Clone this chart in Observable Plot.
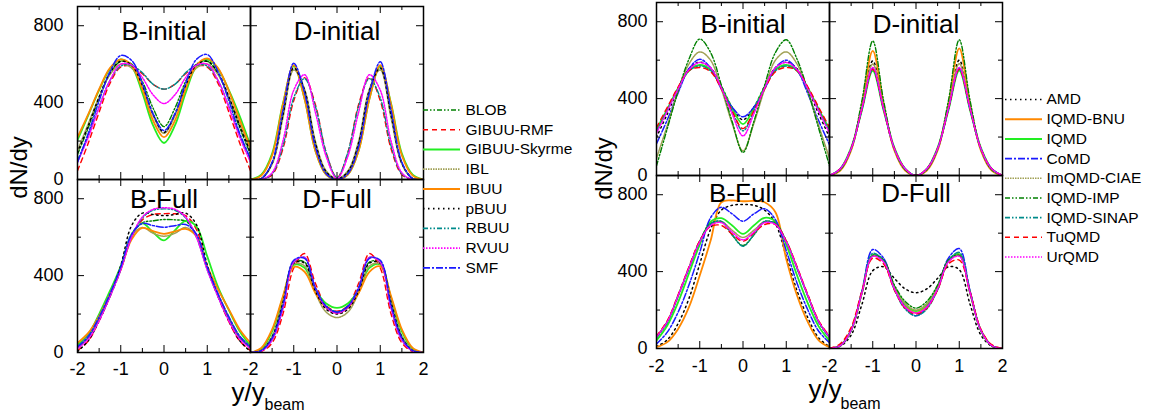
<!DOCTYPE html>
<html><head><meta charset="utf-8">
<script src="https://cdn.jsdelivr.net/npm/d3@7"></script>
<script src="https://cdn.jsdelivr.net/npm/@observablehq/plot@0.6"></script>
<style>
body{margin:0;background:#fff;}
#wrap{position:relative;width:1152px;height:414px;overflow:hidden;background:#fff;}
#wrap svg{position:absolute;top:0;}
</style></head><body><div id="wrap"></div>
<script>
// rapidity grid (y/y_beam)
const xs = [-2,-1.75,-1.5,-1.25,-1,-0.75,-0.5,-0.25,0,0.25,0.5,0.75,1,1.25,1.5,1.75,2];

// ---------- left group: BUU-type models ----------
const leftModels = ["BLOB","GIBUU-RMF","GIBUU-Skyrme","IBL","IBUU","pBUU","RBUU","RVUU","SMF"];
const leftColors = ["#008000","#ff0000","#22ee22","#a0a055","#ff8800","#000000","#008b8b","#ff00ff","#1a1aff"];
const leftDashes = ["5,2,1.5,2,1.5,2","5,4",null,"1.5,1",null,"1.5,3.5","5,2,1.5,2,1.5,2","1.5,1.5","7,2,2,2"];
const leftWidths = [1.4,1.4,1.8,1.5,1.8,1.5,1.4,1.5,1.5];

const L_Binit = {
  "BLOB":        [130,270,420,550,615,600,510,370,275,370,510,600,615,550,420,270,130],
  "GIBUU-RMF":   [45,190,350,500,585,590,550,495,470,495,550,590,585,500,350,190,45],
  "GIBUU-Skyrme":[205,335,465,575,625,590,450,280,190,280,450,590,625,575,465,330,175],
  "IBL":         [150,290,430,545,600,580,480,330,240,330,480,580,600,545,430,290,150],
  "IBUU":        [220,340,470,580,625,595,470,305,220,305,470,595,630,580,460,310,165],
  "pBUU":        [140,280,430,555,615,595,490,340,245,340,490,595,615,555,430,280,140],
  "RBUU":        [100,230,380,515,590,595,555,495,470,495,555,595,590,515,380,230,100],
  "RVUU":        [90,220,375,515,600,595,530,440,395,440,530,595,600,515,375,220,90],
  "SMF":         [90,240,410,560,645,620,500,340,255,340,500,625,650,560,410,240,110]
};
const L_Dinit = {
  "BLOB":        [0,5,85,340,590,460,185,40,3,40,185,460,590,340,85,5,0],
  "GIBUU-RMF":   [0,0,25,160,410,530,390,140,10,140,390,530,410,160,25,0,0],
  "GIBUU-Skyrme":[0,25,135,395,590,420,150,25,0,25,150,420,590,395,135,25,0],
  "IBL":         [0,5,80,320,570,470,200,45,5,45,200,470,570,320,80,5,0],
  "IBUU":        [0,20,125,390,595,420,150,25,0,25,150,420,595,390,125,20,0],
  "pBUU":        [0,5,85,335,580,465,190,40,3,40,190,465,580,335,85,5,0],
  "RBUU":        [0,0,30,175,425,525,380,140,10,140,380,525,425,175,30,0,0],
  "RVUU":        [0,0,35,200,465,545,350,120,5,120,350,545,465,200,35,0,0],
  "SMF":         [0,5,90,360,605,450,170,30,0,30,170,450,612,360,90,5,0]
};
const L_Bfull = {
  "BLOB":        [25,80,180,300,440,610,675,685,692,690,683,610,440,300,180,80,25],
  "GIBUU-RMF":   [10,60,165,290,430,600,690,718,722,722,712,640,440,290,160,60,10],
  "GIBUU-Skyrme":[40,95,200,320,450,615,672,625,583,635,685,655,500,340,220,110,35],
  "IBL":         [30,85,185,305,440,605,650,620,605,620,650,605,440,305,185,85,30],
  "IBUU":        [50,102,189,302,432,588,648,631,617,630,643,605,449,328,224,120,50],
  "pBUU":        [5,62,165,295,452,660,725,718,712,718,725,665,455,295,165,62,5],
  "RBUU":        [25,75,170,290,430,600,700,740,747,740,700,600,430,290,170,75,25],
  "RVUU":        [20,70,165,290,430,600,705,745,753,745,705,600,430,290,165,70,20],
  "SMF":         [30,85,185,305,445,615,671,660,652,660,666,615,445,305,185,85,30]
};
const L_Dfull = {
  "BLOB":        [0,12,85,265,470,470,330,240,212,240,330,470,470,265,85,12,0],
  "GIBUU-RMF":   [0,5,50,200,440,515,360,245,215,245,360,515,440,200,50,5,0],
  "GIBUU-Skyrme":[0,18,110,285,455,440,325,255,232,255,325,440,458,285,110,18,0],
  "IBL":         [0,12,85,265,460,450,310,210,182,210,310,450,460,265,85,12,0],
  "IBUU":        [0,24,120,293,445,420,310,232,206,232,310,420,448,293,120,24,0],
  "pBUU":        [0,10,80,260,465,465,320,225,200,225,320,465,465,260,80,10,0],
  "RBUU":        [0,8,65,230,470,495,340,240,212,240,340,495,470,230,65,8,0],
  "RVUU":        [0,8,65,230,470,495,335,235,205,235,335,495,470,230,65,8,0],
  "SMF":         [0,10,75,245,480,490,335,240,210,240,335,490,480,245,75,10,0]
};

// ---------- right group: QMD-type models ----------
const rightModels = ["AMD","IQMD-BNU","IQMD","CoMD","ImQMD-CIAE","IQMD-IMP","IQMD-SINAP","TuQMD","UrQMD"];
const rightColors = ["#000000","#ff8800","#22ee22","#1a1aff","#a0a055","#008000","#008b8b","#ff0000","#ff00ff"];
const rightDashes = ["1.5,3.5",null,null,"7,2,2,2","1.5,1","5,2,1.5,2,1.5,2","5,2,1.5,2,1.5,2","5,4","1.5,1.5"];
const rightWidths = [1.5,1.8,1.8,1.5,1.5,1.4,1.4,1.4,1.5];

const R_Binit = {
  "AMD":        [200,320,450,555,590,560,465,355,290,355,465,560,590,555,450,320,200],
  "IQMD":       [240,345,455,545,575,550,460,350,267,350,460,550,575,545,455,345,240],
  "CoMD":       [165,290,430,555,605,560,450,355,305,355,450,560,600,550,425,285,160],
  "ImQMD-CIAE": [90,260,440,580,643,600,450,270,128,270,450,600,643,580,440,260,90],
  "IQMD-IMP":   [50,245,440,605,710,640,470,280,120,280,470,640,706,605,440,245,50],
  "IQMD-SINAP": [230,340,450,545,570,545,455,335,232,335,455,545,570,545,450,340,230],
  "TuQMD":      [250,355,460,545,562,540,450,335,244,335,450,540,562,545,460,355,250],
  "UrQMD":      [220,335,450,550,588,560,455,320,206,320,455,560,588,550,450,335,220]
};
const R_Dinit = {
  "AMD":        [0,30,135,360,596,360,135,30,0,30,135,360,600,360,135,30,0],
  "IQMD-BNU":   [0,25,130,370,648,370,130,25,0,25,130,370,661,370,130,25,0],
  "IQMD":       [0,35,145,340,544,340,145,35,0,35,145,340,546,340,145,35,0],
  "CoMD":       [0,35,140,345,555,345,140,35,0,35,140,345,556,345,140,35,0],
  "ImQMD-CIAE": [0,30,135,355,580,355,135,30,0,30,135,355,582,355,135,30,0],
  "IQMD-IMP":   [0,30,140,390,700,390,140,30,0,30,140,390,706,390,140,30,0],
  "IQMD-SINAP": [0,35,140,345,553,345,140,35,0,35,140,345,553,345,140,35,0],
  "TuQMD":      [0,35,140,345,553,345,140,35,0,35,140,345,553,345,140,35,0],
  "UrQMD":      [0,35,140,350,562,350,140,35,0,35,140,350,562,350,140,35,0]
};
const R_Bfull = {
  "AMD":        [10,45,130,260,440,620,720,745,749,745,720,650,480,300,160,55,10],
  "IQMD-BNU":   [7,33,102,215,380,560,761,770,766,768,761,709,466,276,137,42,7],
  "IQMD":       [42,120,241,390,540,660,678,640,596,640,680,660,540,380,235,115,40],
  "CoMD":       [24,85,189,330,500,680,735,700,662,700,727,670,510,340,200,90,30],
  "ImQMD-CIAE": [60,140,275,420,558,645,660,615,578,615,660,648,558,420,275,140,60],
  "IQMD-IMP":   [60,140,276,420,560,650,660,590,536,590,660,650,560,420,276,140,60],
  "IQMD-SINAP": [55,135,270,415,555,648,662,592,532,592,662,648,555,415,270,135,55],
  "TuQMD":      [65,145,280,425,560,635,640,595,558,600,645,645,560,425,280,145,65],
  "UrQMD":      [60,140,275,420,555,640,655,605,565,605,655,645,555,420,275,140,60]
};
const R_Dfull = {
  "AMD":        [0,12,70,230,405,425,365,310,290,310,365,425,410,230,70,12,0],
  "IQMD-BNU":   [0,15,95,290,485,455,310,220,185,220,310,455,490,290,95,15,0],
  "IQMD":       [0,15,95,290,485,460,320,230,195,230,320,460,490,290,95,15,0],
  "CoMD":       [0,15,95,300,515,470,320,215,170,215,320,470,520,300,95,15,0],
  "ImQMD-CIAE": [0,15,95,290,480,455,320,232,200,232,320,455,485,290,95,15,0],
  "IQMD-IMP":   [0,15,95,290,485,460,330,245,210,245,330,460,485,290,95,15,0],
  "IQMD-SINAP": [0,15,95,295,495,455,305,205,170,205,305,455,500,295,95,15,0],
  "TuQMD":      [0,25,110,300,470,440,305,210,180,210,305,440,460,295,100,20,0],
  "UrQMD":      [0,15,95,290,480,450,310,215,185,215,310,450,480,290,95,15,0]
};

// axis ticks and labels
const xMajor = [-1,0,1], xMinor = [-1.5,-0.5,0.5,1.5];
const yMajor = [400,800], yMinor = [200,600];
const yTickLabels = [0,400,800];
const xTickLabelsB = [-2,-1,0,1];
const xTickLabelsD = [-2,-1,0,1,2];
const panelTitles = [
  {fx:"B",fy:"initial",t:"B-initial"},{fx:"D",fy:"initial",t:"D-initial"},
  {fx:"B",fy:"Full",t:"B-Full"},{fx:"D",fy:"Full",t:"D-Full"}
];

const FONT = "'Liberation Sans', Arial, Helvetica, sans-serif";
const W = 346, H = 346, PW = W/2, PH = H/2;

function buildGroup(cfg){
  const rows = [];
  for (const [fy, fx, tbl] of cfg.panels){
    for (const m of cfg.models){
      const v = tbl[m]; if (!v) continue;
      v.forEach((y,i) => rows.push({fx, fy, model:m, x: xs[i], y}));
    }
  }
  const marks = [];
  cfg.models.forEach((m,k) => {
    marks.push(Plot.line(rows.filter(d => d.model === m), {
      x:"x", y:"y", fx:"fx", fy:"fy", z: d => d.fx + d.fy,
      stroke: cfg.colors[k], strokeWidth: cfg.widths[k],
      strokeDasharray: cfg.dashes[k] || undefined, curve:"catmull-rom", clip: true
    }));
  });
  marks.push(
    Plot.ruleX(xMajor,{insetTop:PH-7, stroke:"black"}),
    Plot.ruleX(xMajor,{insetBottom:PH-7, stroke:"black"}),
    Plot.ruleX(xMinor,{insetTop:PH-4, stroke:"black"}),
    Plot.ruleX(xMinor,{insetBottom:PH-4, stroke:"black"}),
    Plot.ruleY(yMajor,{insetRight:PW-7, stroke:"black"}),
    Plot.ruleY(yMajor,{insetLeft:PW-7, stroke:"black"}),
    Plot.ruleY(yMinor,{insetRight:PW-4, stroke:"black"}),
    Plot.ruleY(yMinor,{insetLeft:PW-4, stroke:"black"}),
    Plot.frame({stroke:"black", strokeWidth:1.5}),
    Plot.text(panelTitles.filter(d => d.fy === "initial"), {fx:"fx", fy:"fy", text:"t", frameAnchor:"top", dy: cfg.titleDyTop, lineAnchor:"bottom", fontSize:26, fill:"black"}),
    Plot.text(panelTitles.filter(d => d.fy === "Full"), {fx:"fx", fy:"fy", text:"t", frameAnchor:"top", dy: cfg.titleDyBottom, lineAnchor:"bottom", fontSize:26, fill:"black"}),
    Plot.text(["initial","Full"].flatMap(fy => yTickLabels.map(y => ({fx:"B", fy, y}))), {
      fx:"fx", fy:"fy", y:"y", text: d => String(d.y), frameAnchor:"left", textAnchor:"end", dx: cfg.ylabDx, lineAnchor:"middle", fontSize:18, fill:"black"}),
    Plot.text([...xTickLabelsB.map(x => ({fx:"B", fy:"Full", x})), ...xTickLabelsD.map(x => ({fx:"D", fy:"Full", x}))], {
      fx:"fx", fy:"fy", x:"x", text: d => String(d.x), frameAnchor:"bottom", dy: cfg.xlabDy, lineAnchor:"bottom", fontSize:18, fill:"black"}),
    Plot.text([{fx:"B", fy:"initial"}], {fx:"fx", fy:"fy", text: () => "dN/dy", frameAnchor:"bottom-left", rotate:-90, dx: cfg.yTitle[0], dy: cfg.yTitle[1], textAnchor:"middle", lineAnchor:"bottom", fontSize:24, fill:"black"}),
    Plot.text([{fx:"B", fy:"Full"}], {fx:"fx", fy:"fy", text: () => "y/y", frameAnchor:"bottom-right", textAnchor:"start", dx: cfg.xTitle[0], dy: cfg.xTitle[1], lineAnchor:"bottom", fontSize:26, fill:"black"}),
    Plot.text([{fx:"B", fy:"Full"}], {fx:"fx", fy:"fy", text: () => "beam", frameAnchor:"bottom-right", textAnchor:"start", dx: cfg.xTitle[2], dy: cfg.xTitle[3], lineAnchor:"bottom", fontSize:16, fill:"black"})
  );
  const svg = Plot.plot({
    width: cfg.mL + W + 3, height: 414,
    marginLeft: cfg.mL, marginTop: cfg.mT, marginRight: 3, marginBottom: 414 - cfg.mT - H,
    x: {domain:[-2,2], axis:null},
    y: {domain:[0,900], axis:null},
    fx: {domain:["B","D"], padding:0, axis:null},
    fy: {domain:["initial","Full"], padding:0, axis:null},
    style: {background:"transparent", fontFamily: FONT, color:"black", overflow:"visible"},
    marks
  });
  svg.style.left = cfg.left + "px";
  return svg;
}

function buildLegend(cfg){
  const n = cfg.models.length;
  const items = cfg.models.map((m,i) => ({m, i}));
  const marks = cfg.models.map((m,k) => Plot.ruleY([k], {
    x1: cfg.lx1, x2: cfg.lx2, stroke: cfg.colors[k], strokeWidth: cfg.widths[k] + 0.2,
    strokeDasharray: cfg.dashes[k] || undefined
  }));
  marks.push(Plot.text(items, {x: () => cfg.tx, y:"i", text:"m", textAnchor:"start", lineAnchor:"middle", fontSize:15.5, fill:"black"}));
  const svg = Plot.plot({
    width: 170, height: 414, margin: 0,
    x: {domain:[0,170], range:[0,170], axis:null},
    y: {domain:[0,n-1], range:[cfg.y0, cfg.y1], axis:null},
    style: {background:"transparent", fontFamily: FONT, color:"black", overflow:"visible"},
    marks
  });
  svg.style.left = cfg.left + "px";
  return svg;
}

const wrap = document.getElementById("wrap");
wrap.appendChild(buildGroup({
  left: 0, mL: 77, mT: 6,
  models: leftModels, colors: leftColors, dashes: leftDashes, widths: leftWidths,
  panels: [["initial","B",L_Binit],["initial","D",L_Dinit],["Full","B",L_Bfull],["Full","D",L_Dfull]],
  titleDyTop: 33, titleDyBottom: 28, ylabDx: -14, xlabDy: 22,
  yTitle: [-51,-12], xTitle: [-19,48,14,57]
}));
wrap.appendChild(buildGroup({
  left: 570, mL: 86, mT: 2,
  models: rightModels, colors: rightColors, dashes: rightDashes, widths: rightWidths,
  panels: [["initial","B",R_Binit],["initial","D",R_Dinit],["Full","B",R_Bfull],["Full","D",R_Dfull]],
  titleDyTop: 30, titleDyBottom: 26, ylabDx: -9, xlabDy: 23,
  yTitle: [-45,-7], xTitle: [-21,49,11,60]
}));
wrap.appendChild(buildLegend({
  left: 423, models: leftModels, colors: leftColors, dashes: leftDashes, widths: leftWidths,
  lx1: 0, lx2: 37, tx: 42, y0: 109.5, y1: 267.3
}));
wrap.appendChild(buildLegend({
  left: 1002, models: rightModels, colors: rightColors, dashes: rightDashes, widths: rightWidths,
  lx1: 3, lx2: 40, tx: 44, y0: 99, y1: 256.5
}));
</script>
</body></html>
